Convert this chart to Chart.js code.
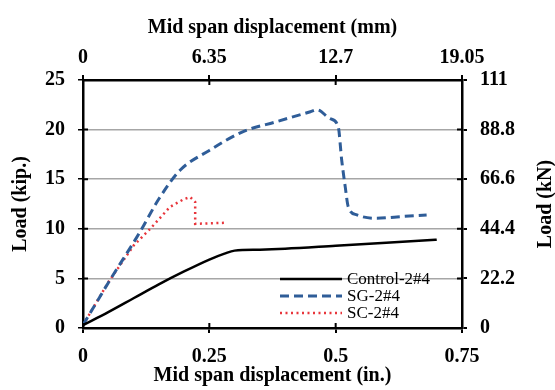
<!DOCTYPE html>
<html>
<head>
<meta charset="UTF-8" />
<script src="https://cdn.jsdelivr.net/npm/chart.js"></script>
<style>
  html, body { margin: 0; padding: 0; background: #fff; }
  #wrap { width: 555px; height: 390px; }
</style>
</head>
<body>
<div id="wrap"><canvas id="c"></canvas></div>
<script>
  // displacement (in.) and load (kip.)
  const controlX = [0, 0.05, 0.1, 0.15, 0.2, 0.25, 0.28, 0.3, 0.35, 0.4, 0.5, 0.6, 0.7];
  const controlY = [0.3, 1.6, 3.0, 4.4, 5.7, 6.9, 7.5, 7.8, 7.9, 8.0, 8.3, 8.6, 8.9];

  const sgX = [0, 0.053, 0.113, 0.15, 0.192, 0.25, 0.317, 0.383, 0.45, 0.463, 0.489, 0.505, 0.512, 0.519, 0.525, 0.542, 0.581, 0.621, 0.68];
  const sgY = [0.3, 4.8, 9.7, 13.0, 15.9, 17.9, 19.8, 20.8, 21.8, 22.0, 21.1, 20.3, 16.9, 14.2, 12.2, 11.4, 11.06, 11.2, 11.4];

  const scX = [0, 0.05, 0.1, 0.133, 0.172, 0.2, 0.212, 0.222, 0.222, 0.28];
  const scY = [0.3, 4.6, 8.3, 10.0, 12.2, 13.0, 13.2, 12.7, 10.5, 10.6];

  const seriesNames = ['Control-2#4', 'SG-2#4', 'SC-2#4'];

  const inTicks = [0, 0.25, 0.5, 0.75];
  const mmTicks = [0, 6.35, 12.7, 19.05];
  const kipTicks = [0, 5, 10, 15, 20, 25];
  const kNTicks = [0, 22.2, 44.4, 66.6, 88.8, 111];

  const pts = (xs, ys) => xs.map((x, i) => ({ x: x, y: ys[i] }));
  const serif = 'Liberation Serif';

  const fixTicks = arr => scale => { scale.ticks = arr.map(v => ({ value: v })); };

  // legend drawn inside the plot, lower right
  const innerLegend = {
    id: 'innerLegend',
    afterDatasetsDraw(chart) {
      const ctx = chart.ctx;
      const x0 = 280, x1 = 342, tx = 347;
      const rows = [279, 296, 313];
      chart.data.datasets.forEach((ds, i) => {
        ctx.save();
        ctx.strokeStyle = ds.borderColor;
        ctx.lineWidth = ds.borderWidth;
        ctx.setLineDash(ds.borderDash || []);
        ctx.beginPath();
        ctx.moveTo(x0, rows[i]);
        ctx.lineTo(x1, rows[i]);
        ctx.stroke();
        ctx.setLineDash([]);
        ctx.fillStyle = '#000';
        ctx.font = '17px "' + serif + '"';
        ctx.textBaseline = 'middle';
        ctx.fillText(ds.label, tx, rows[i] + 1);
        ctx.restore();
      });
    }
  };

  // inward tick marks (ticks cross the axis lines) + right axis title reading upward
  const extras = {
    id: 'extras',
    afterDraw(chart) {
      const ctx = chart.ctx;
      const a = chart.chartArea;
      ctx.save();
      ctx.strokeStyle = '#000';
      ctx.lineWidth = 2;
      ctx.beginPath();
      ['x', 'x2'].forEach(id => {
        const s = chart.scales[id];
        s.ticks.forEach(t => {
          const px = s.getPixelForValue(t.value);
          if (id === 'x') { ctx.moveTo(px, a.bottom); ctx.lineTo(px, a.bottom - 5); }
          else { ctx.moveTo(px, a.top); ctx.lineTo(px, a.top + 5); }
        });
      });
      ['y', 'y1'].forEach(id => {
        const s = chart.scales[id];
        s.ticks.forEach(t => {
          const py = s.getPixelForValue(t.value);
          if (id === 'y') { ctx.moveTo(a.left, py); ctx.lineTo(a.left + 5, py); }
          else { ctx.moveTo(a.right, py); ctx.lineTo(a.right - 5, py); }
        });
      });
      ctx.stroke();

      ctx.translate(546, (a.top + a.bottom) / 2);
      ctx.rotate(-Math.PI / 2);
      ctx.fillStyle = '#000';
      ctx.font = 'bold 20px "' + serif + '"';
      ctx.textAlign = 'center';
      ctx.textBaseline = 'middle';
      ctx.fillText('Load (kN)', 0, 0);
      ctx.restore();
    }
  };

  const tickFont = { family: serif, size: 20, weight: 'bold' };
  const titleFont = { family: serif, size: 20, weight: 'bold' };

  new Chart(document.getElementById('c'), {
    type: 'scatter',
    data: {
      datasets: [
        {
          label: seriesNames[0], data: pts(controlX, controlY), showLine: true,
          borderColor: '#000000', borderWidth: 2.5, pointRadius: 0, cubicInterpolationMode: 'monotone'
        },
        {
          label: seriesNames[1], data: pts(sgX, sgY), showLine: true,
          borderColor: '#2F5D98', borderWidth: 3, borderDash: [9, 5], pointRadius: 0, cubicInterpolationMode: 'monotone'
        },
        {
          label: seriesNames[2], data: pts(scX, scY), showLine: true,
          borderColor: '#E8353B', borderWidth: 2.5, borderDash: [2, 3.5], pointRadius: 0, tension: 0
        }
      ]
    },
    options: {
      responsive: true,
      maintainAspectRatio: false,
      animation: false,
      layout: { padding: 0 },
      plugins: { legend: { display: false }, tooltip: { enabled: false } },
      scales: {
        x: {
          type: 'linear', position: 'bottom', min: 0, max: 0.75,
          afterBuildTicks: fixTicks(inTicks),
          afterFit: s => { s.height = 62; },
          border: { color: '#000', width: 2.5 },
          grid: { drawOnChartArea: false, tickColor: '#000', tickLength: 5, lineWidth: 2 },
          ticks: { color: '#000', font: tickFont, padding: 12, maxRotation: 0, callback: v => String(v) },
          title: { display: true, text: 'Mid span displacement (in.)', color: '#000', font: titleFont, padding: { top: 0, bottom: 2 } }
        },
        x2: {
          type: 'linear', position: 'top', min: 0, max: 19.05,
          afterBuildTicks: fixTicks(mmTicks),
          afterFit: s => { s.height = 80; },
          border: { color: '#000', width: 2.5 },
          grid: { drawOnChartArea: false, tickColor: '#000', tickLength: 5, lineWidth: 2 },
          ticks: { color: '#000', font: tickFont, padding: 5, maxRotation: 0, callback: v => String(v) },
          title: { display: true, text: 'Mid span displacement (mm)', color: '#000', font: titleFont, padding: { top: 16, bottom: 0 } }
        },
        y: {
          type: 'linear', position: 'left', min: 0, max: 25,
          afterBuildTicks: fixTicks(kipTicks),
          afterFit: s => { s.width = 83; },
          border: { color: '#000', width: 2.5 },
          grid: {
            drawOnChartArea: true, tickColor: '#000', tickLength: 5,
            color: c => (c.tick && c.tick.value > 0 && c.tick.value < 25) ? '#a6a6a6' : 'rgba(0,0,0,0)',
            lineWidth: 1.5
          },
          ticks: { color: '#000', font: tickFont, padding: 13, callback: v => String(v) },
          title: { display: true, text: 'Load (kip.)', color: '#000', font: titleFont, padding: { top: 9, bottom: 0 } }
        },
        y1: {
          type: 'linear', position: 'right', min: 0, max: 111,
          afterBuildTicks: fixTicks(kNTicks),
          afterFit: s => { s.width = 93; },
          border: { color: '#000', width: 2.5 },
          grid: { drawOnChartArea: false, tickColor: '#000', tickLength: 5, lineWidth: 2 },
          ticks: { color: '#000', font: tickFont, padding: 13, callback: v => String(v) },
          title: { display: false }
        }
      }
    },
    plugins: [innerLegend, extras]
  });
</script>
</body>
</html>
